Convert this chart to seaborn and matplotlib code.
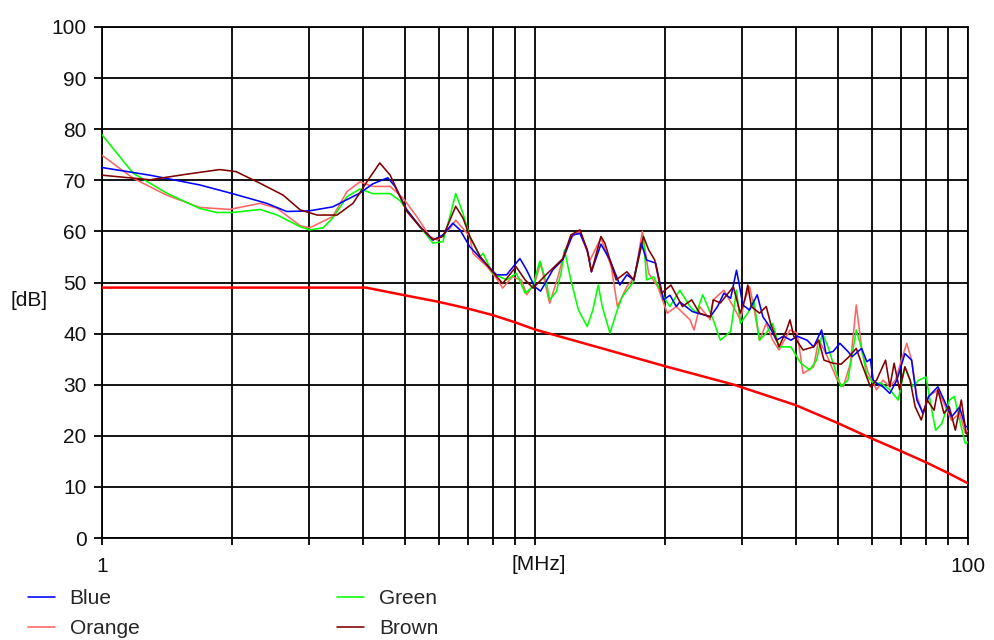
import matplotlib
matplotlib.use("Agg")
import matplotlib.pyplot as plt
import seaborn as sns
import numpy as np

# ---- data (frequency in MHz, level in dB) ----
blue_pts = [(1.0, 72.5), (1.29, 71.0), (1.68, 69.1), (2.0, 67.4), (2.4, 65.5), (2.67, 63.9), (3.0, 64.0),
            (3.41, 64.8), (3.94, 67.5), (4.22, 69.3), (4.57, 70.5), (4.75, 68.8), (5.06, 64.2), (5.42, 61.0),
            (5.81, 58.3), (6.13, 59.3), (6.46, 61.6), (6.71, 60.3), (7.07, 57.0), (7.75, 53.4), (8.15, 51.5),
            (8.6, 51.5), (9.23, 54.7), (9.57, 52.4), (9.98, 49.2), (10.3, 48.3), (11.0, 52.5), (11.6, 54.5),
            (12.2, 59.3), (12.7, 59.6), (13.2, 56.4), (13.5, 52.1), (14.2, 57.5), (14.9, 54.4), (15.7, 49.5),
            (16.3, 51.5), (16.9, 50.5), (17.6, 57.7), (18.1, 54.4), (19.0, 53.8), (19.8, 46.6), (20.5, 47.5),
            (21.2, 45.3), (21.6, 46.2), (23.1, 44.3), (25.4, 43.3), (26.4, 45.3), (27.3, 47.9), (28.3, 46.9),
            (29.2, 52.4), (29.6, 49.8), (30.2, 45.6), (31.3, 44.6), (32.6, 47.6), (33.6, 43.3), (34.8, 41.4),
            (36.1, 38.7), (37.5, 39.5), (39.0, 38.7), (40.3, 39.5), (42.5, 38.7), (44.0, 37.4), (45.9, 40.7),
            (47.0, 36.1), (48.8, 36.5), (50.6, 38.1), (52.8, 36.5), (54.0, 35.5), (56.8, 37.1), (58.4, 34.5),
            (59.5, 35.0), (60.4, 30.9), (61.5, 30.3), (63.6, 29.6), (66.0, 28.3), (68.5, 30.9), (71.5, 36.1),
            (74.1, 34.8), (76.2, 27.0), (78.7, 24.4), (81.1, 27.7), (85.2, 29.6), (88.0, 27.0), (91.6, 23.7),
            (95.6, 25.6), (98.6, 21.8), (100.0, 21.8)]

orange_pts = [(1.0, 74.9), (1.18, 70.4), (1.41, 67.1), (1.68, 64.7), (1.97, 64.3), (2.32, 65.5), (2.54, 64.5),
              (2.87, 61.1), (3.02, 60.7), (3.41, 62.9), (3.68, 67.8), (3.94, 69.7), (4.22, 68.8), (4.63, 68.8),
              (4.96, 66.5), (5.33, 62.9), (5.72, 59.0), (5.95, 58.3), (6.36, 60.6), (6.56, 62.2), (7.07, 59.0),
              (7.19, 55.7), (7.75, 53.1), (8.15, 50.8), (8.42, 48.9), (8.86, 51.1), (9.3, 50.5), (9.57, 47.6),
              (9.98, 49.8), (10.3, 53.8), (10.81, 45.9), (11.3, 51.1), (11.7, 56.1), (12.2, 59.0), (12.7, 60.0),
              (13.4, 54.4), (14.2, 58.7), (15.0, 53.1), (15.5, 45.3), (16.3, 49.2), (17.0, 51.1), (17.7, 60.0),
              (18.3, 51.8), (19.2, 49.2), (20.2, 44.0), (21.2, 45.3), (22.8, 42.7), (23.3, 40.7), (24.0, 45.3),
              (25.4, 42.7), (25.8, 46.6), (27.3, 48.5), (28.7, 45.3), (29.8, 42.7), (30.5, 46.6), (31.3, 49.2),
              (32.0, 45.3), (33.0, 38.7), (34.2, 42.0), (35.4, 38.7), (36.6, 36.8), (38.8, 40.7), (40.3, 40.1),
              (41.6, 32.2), (44.0, 33.5), (45.2, 38.8), (47.0, 36.1), (49.9, 30.9), (51.5, 29.6), (53.5, 34.1),
              (55.2, 45.6), (56.0, 41.4), (57.0, 36.1), (58.9, 32.2), (61.5, 29.0), (63.6, 30.9), (66.0, 29.6),
              (68.0, 30.9), (70.5, 35.4), (72.2, 38.1), (74.1, 34.8), (76.2, 27.7), (78.7, 24.4), (81.1, 27.7),
              (85.2, 29.0), (88.8, 25.6), (91.6, 23.0), (95.6, 24.4), (98.6, 20.5), (100.0, 21.0)]

green_pts = [(1.0, 78.9), (1.18, 71.4), (1.41, 67.5), (1.68, 64.5), (1.84, 63.7), (2.0, 63.7), (2.32, 64.3),
             (2.54, 63.2), (2.87, 60.9), (3.02, 60.3), (3.24, 60.7), (3.41, 62.6), (3.68, 66.8), (3.94, 68.3),
             (4.22, 67.4), (4.63, 67.4), (4.88, 66.0), (5.06, 64.2), (5.81, 57.7), (6.13, 58.0), (6.36, 62.9),
             (6.56, 67.4), (6.82, 63.5), (7.07, 59.0), (7.47, 55.1), (7.59, 55.7), (7.98, 51.8), (8.6, 50.5),
             (9.06, 51.8), (9.49, 47.9), (9.88, 49.2), (10.26, 54.2), (10.64, 49.8), (10.81, 46.6), (11.2, 48.2),
             (11.5, 52.1), (11.7, 56.4), (12.1, 50.5), (12.6, 44.6), (13.2, 41.4), (13.6, 44.6), (14.0, 49.5),
             (14.3, 45.3), (14.9, 40.1), (15.4, 44.0), (15.9, 47.2), (16.9, 50.2), (17.6, 57.0), (17.8, 59.0),
             (18.1, 50.5), (18.8, 51.1), (19.8, 47.2), (20.5, 45.3), (21.6, 48.5), (22.8, 45.3), (23.6, 44.0),
             (24.4, 47.6), (25.8, 42.7), (26.8, 38.7), (28.3, 40.4), (29.2, 48.5), (29.8, 42.0), (31.0, 44.0),
             (32.0, 46.6), (33.0, 38.7), (34.2, 40.1), (35.4, 42.0), (36.6, 37.4), (39.0, 37.4), (41.1, 34.2),
             (43.1, 32.9), (44.7, 34.8), (46.1, 40.1), (47.5, 37.4), (48.8, 34.2), (50.9, 29.6), (52.8, 30.9),
             (55.2, 40.7), (56.8, 37.1), (58.4, 31.8), (60.4, 30.3), (63.0, 30.3), (66.0, 29.0), (69.0, 27.0),
             (71.5, 33.5), (74.5, 29.6), (77.0, 30.9), (80.0, 31.5), (82.5, 25.0), (84.2, 21.1), (87.0, 22.4),
             (90.6, 27.0), (93.0, 27.7), (95.6, 23.1), (98.6, 18.5), (100.0, 18.8)]

brown_pts = [(1.0, 71.0), (1.29, 70.1), (1.57, 71.2), (1.87, 72.1), (2.04, 71.7), (2.32, 69.4), (2.62, 67.1),
             (2.87, 64.2), (3.14, 63.2), (3.49, 63.2), (3.80, 65.5), (4.09, 69.7), (4.38, 73.4), (4.63, 71.0),
             (4.88, 66.8), (5.06, 63.9), (5.42, 60.9), (5.81, 58.4), (6.13, 59.0), (6.56, 64.9), (6.82, 62.6),
             (7.07, 59.0), (7.47, 55.1), (7.98, 52.1), (8.42, 49.8), (9.04, 53.1), (9.49, 50.5), (9.9, 48.9),
             (10.6, 51.5), (11.0, 52.8), (11.6, 54.7), (12.1, 59.3), (12.7, 60.3), (13.2, 56.4), (13.5, 52.1),
             (14.2, 59.0), (14.5, 57.7), (14.9, 54.4), (15.4, 50.5), (16.3, 52.1), (16.9, 50.5), (17.8, 59.0),
             (18.3, 56.4), (18.9, 54.4), (19.6, 47.9), (20.6, 49.5), (21.9, 45.3), (23.0, 46.6), (24.0, 44.0),
             (25.4, 43.3), (25.8, 46.6), (26.8, 46.0), (28.3, 48.5), (28.7, 49.2), (29.8, 44.0), (30.5, 46.6),
             (31.0, 49.5), (31.6, 45.3), (33.0, 44.0), (34.2, 45.3), (35.0, 42.0), (36.6, 37.4), (38.1, 40.7),
             (38.8, 42.7), (39.6, 39.5), (41.6, 36.8), (44.0, 37.4), (45.2, 38.7), (46.5, 34.8), (48.8, 34.2),
             (50.9, 34.0), (53.0, 35.4), (55.2, 37.1), (57.0, 33.8), (59.5, 29.6), (61.5, 30.9), (64.5, 34.8),
             (66.0, 29.6), (67.5, 34.2), (69.5, 29.0), (71.5, 33.5), (73.5, 30.9), (75.5, 25.7), (78.0, 23.1),
             (80.5, 27.0), (83.5, 25.0), (85.2, 29.0), (88.0, 24.4), (90.5, 25.7), (93.5, 21.1), (96.5, 27.0),
             (99.0, 20.5), (100.0, 20.2)]

limit_pts = [(1.0, 49.0), (4.07, 49.0), (5.0, 47.5), (6.0, 46.2), (7.0, 44.9), (8.0, 43.6), (9.0, 42.2),
             (10.0, 40.8), (10.8, 40.0), (15.0, 36.6), (20.0, 33.6), (28.8, 30.0), (40.0, 26.0), (50.0, 22.5),
             (58.0, 20.0), (70.0, 17.0), (80.0, 14.8), (90.0, 12.7), (100.0, 10.7)]

series_names = ["Blue", "Orange", "Green", "Brown"]
series_colors = {"Blue": "#0000ff", "Orange": "#ff6464", "Green": "#00ff00", "Brown": "#800000"}
series_data = {"Blue": blue_pts, "Orange": orange_pts, "Green": green_pts, "Brown": brown_pts}

y_ticks = list(range(0, 101, 10))
x_major = [1, 10, 100]
x_major_labels = ["1", "", "100"]
x_minor = [2, 3, 4, 5, 6, 7, 8, 9, 20, 30, 40, 50, 60, 70, 80, 90]

# ---- style ----
sns.set_theme(style="white")
plt.rcParams["font.family"] = ["Liberation Sans", "DejaVu Sans"]
FS = 15

fig = plt.figure(figsize=(9.94, 6.40), dpi=100)
fig.patch.set_facecolor("white")
ax = fig.add_axes([102 / 994, 1 - 538 / 640, 866 / 994, 511 / 640])
ax.set_facecolor("white")

draw_order = ["Orange", "Green", "Blue", "Brown"]
for name in draw_order:
    pts = series_data[name]
    xs = [p[0] for p in pts]
    ys = [p[1] for p in pts]
    sns.lineplot(x=xs, y=ys, color=series_colors[name], linewidth=1.15, ax=ax,
                 label=name, zorder=3, sort=False)

lx = [p[0] for p in limit_pts]
ly = [p[1] for p in limit_pts]
sns.lineplot(x=lx, y=ly, color="#ff0000", linewidth=1.8, ax=ax, zorder=4, sort=False)

ax.set_xscale("log")
ax.set_xlim(1, 100)
ax.set_ylim(0, 100)
ax.set_xticks(x_major)
ax.set_xticklabels(x_major_labels)
ax.set_xticks(x_minor, minor=True)
ax.xaxis.set_minor_formatter(matplotlib.ticker.NullFormatter())
ax.set_yticks(y_ticks)
ax.set_yticklabels([str(v) for v in y_ticks])
ax.set_xlabel("")
ax.set_ylabel("")

ax.grid(True, which="both", axis="x", color="black", linewidth=1.3, zorder=1)
ax.grid(True, which="major", axis="y", color="black", linewidth=1.3, zorder=1)
ax.set_axisbelow(True)
for s in ax.spines.values():
    s.set_color("black")
    s.set_linewidth(1.3)

ax.tick_params(axis="both", which="both", direction="out", color="black", width=1.3,
               labelsize=FS, labelcolor="#111111")
ax.tick_params(axis="y", which="major", length=6, pad=5, left=True)
ax.tick_params(axis="x", which="both", length=5, pad=9, bottom=True)

if ax.legend_ is not None:
    ax.legend_.remove()

fig.text(10 / 994, 1 - 300 / 640, "[dB]", fontsize=FS, ha="left", va="center", color="#111111")
fig.text(539 / 994, 1 - 565 / 640, "[MHz]", fontsize=FS, ha="center", va="center", color="#111111")

h_all, l_all = ax.get_legend_handles_labels()
hmap = dict(zip(l_all, h_all))
leg_handles = [hmap[n] for n in series_names]
fig.legend(leg_handles, series_names, loc="upper left", bbox_to_anchor=(28 / 994, 1 - 589 / 640),
           ncol=2, frameon=False, fontsize=FS, handlelength=1.3, handletextpad=0.7,
           columnspacing=9.5, labelspacing=0.55, borderpad=0, borderaxespad=0)

fig.savefig("out.png", dpi=100, facecolor="white")
